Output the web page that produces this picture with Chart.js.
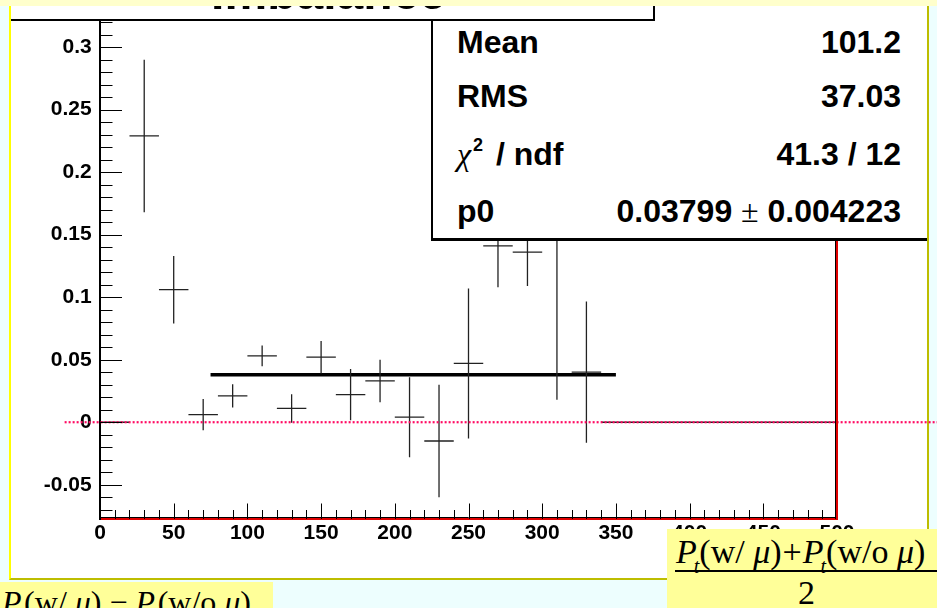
<!DOCTYPE html>
<html>
<head>
<meta charset="utf-8">
<title>Imbalance</title>
<script src="https://cdn.jsdelivr.net/npm/chart.js"></script>
<style>
  html, body { margin: 0; padding: 0; }
  body {
    width: 937px; height: 608px; position: relative; overflow: hidden;
    background: #edfefe; font-family: 'Liberation Sans', Arial, sans-serif; color: #000;
  }
  .abs { position: absolute; white-space: nowrap; }
  #painel {
    position: absolute; left: 9px; top: 0; width: 916px; height: 578px; background: #fff;
    border-left: 2px solid #ffff00; border-right: 2px solid #bdbd00; border-bottom: 2px solid #bdbd00;
  }
  #grafico { position: absolute; left: 0; top: 0; z-index: 1; }
  #caixaTitulo {
    position: absolute; left: 11px; top: -20px; width: 642px; height: 39px; background: #fff;
    border-right: 2px solid #000; border-bottom: 2px solid #000; z-index: 6;
  }
  #titulo { left: 10px; top: -31px; width: 637px; text-align: center; font-size: 48px; line-height: 48px; font-weight: bold; z-index: 7; }
  #faixaTopo { left: 0; top: 0; width: 937px; height: 6px; background: #ffffcc; z-index: 10; }
  #caixaStats {
    position: absolute; left: 431px; top: -10px; width: 494px; height: 248px; background: #fff;
    border-left: 2px solid #000; border-bottom: 3px solid #000; z-index: 5;
  }
  .stat { font-size: 32px; line-height: 32px; font-weight: bold; z-index: 7; }
  .rotulo { left: 457px; }
  .valor { right: 36px; text-align: right; }
  .serif { font-family: 'Liberation Serif', 'Times New Roman', serif; font-weight: normal; }
  .sup { position: relative; top: -14px; font-size: 18px; margin-left: 2px; margin-right: 4px; }
  .formula { font-family: 'Liberation Serif', 'Times New Roman', serif; font-size: 32px; line-height: 32px; }
  .formula i { font-style: italic; }
  .sub { position: relative; top: 10px; font-size: 20px; font-style: italic; margin-left: -3px; }
  #caixaSoma { left: 667px; top: 529px; width: 270px; height: 79px; background: #ffff99; overflow: hidden; z-index: 10; }
  #caixaDif { left: 0; top: 582px; width: 273px; height: 26px; background: #ffff99; overflow: hidden; z-index: 10; }
</style>
</head>
<body>
<div id="painel"></div>
<canvas id="grafico" width="937" height="608"></canvas>

<div id="caixaStats"></div>
<div class="abs stat rotulo" style="top:25.6px">Mean</div>
<div class="abs stat valor" style="top:25.6px">101.2</div>
<div class="abs stat rotulo" style="top:80.2px">RMS</div>
<div class="abs stat valor" style="top:80.2px">37.03</div>
<div class="abs stat rotulo" style="top:137.9px"><span class="serif" style="font-style:italic">χ</span><span class="sup">2</span> / ndf</div>
<div class="abs stat valor" style="top:137.9px">41.3 / 12</div>
<div class="abs stat rotulo" style="top:194.6px">p0</div>
<div class="abs stat valor" style="top:194.6px">0.03799 <span class="serif">±</span> 0.004223</div>

<div id="caixaTitulo"></div>
<div id="titulo" class="abs">Imbalance</div>
<div id="faixaTopo" class="abs"></div>

<div id="caixaDif" class="abs">
  <div class="abs formula" style="left:2px; top:4px"><i>P</i><span class="sub">t</span>(w/ <i>μ</i>) − <i>P</i><span class="sub">t</span>(w/o <i>μ</i>)</div>
</div>
<div id="caixaSoma" class="abs">
  <div class="abs formula" style="left:9px; top:5.5px; font-size:34px; line-height:34px"><i>P</i><span class="sub">t</span>(w/ <i>μ</i>)<span style="margin:0 1px">+</span><i>P</i><span class="sub">t</span>(w/o <i>μ</i>)</div>
  <div class="abs" style="left:8px; top:41px; width:262px; height:1.5px; background:#000"></div>
  <div class="abs formula" style="left:131px; top:47px; font-size:34px; line-height:34px">2</div>
</div>

<script>
// histogram bins (20 wide), values and errors
const binCenters = [10, 30, 50, 70, 90, 110, 130, 150, 170, 190, 210, 230, 250,
                    270, 290, 310, 330, 350, 370, 390, 410, 430, 450, 470, 490];
const binValues  = [0, 0.229, 0.106, 0.006, 0.021, 0.053, 0.011, 0.052, 0.022, 0.033, 0.004, -0.015, 0.047,
                    0.141, 0.136, 0.155, 0.040, 0, 0, 0, 0, 0, 0, 0, 0];
const binErrors  = [0, 0.061, 0.027, 0.0125, 0.0093, 0.0083, 0.0114, 0.013, 0.0205, 0.017, 0.032, 0.045, 0.060,
                    0.033, 0.027, 0.137, 0.0565, 0, 0, 0, 0, 0, 0, 0, 0];
const binHalfWidth = 10;

// constant fit p0 and its range
const fitP0 = 0.03799;
const fitRange = [75, 350];

// dotted zero reference line (runs past the frame)
const zeroLineX = [-24, 580];

// axes
const xRange = [0, 500];
const yRange = [-0.0774, 0.3205];
const xMajorStep = 50;
const yMajorStep = 0.05;
const xMinorStep = 10;
const yMinorStep = 0.01;

// vertical error bars, broken apart with null points
function errorSegments() {
    const pts = [];
    binCenters.forEach((c, i) => {
        if (!binErrors[i]) return;
        pts.push({ x: c, y: binValues[i] - binErrors[i] });
        pts.push({ x: c, y: binValues[i] + binErrors[i] });
        pts.push({ x: c, y: null });
    });
    return pts;
}

// horizontal bin-width bars
function binSegments() {
    const pts = [];
    binCenters.forEach((c, i) => {
        pts.push({ x: c - binHalfWidth, y: binValues[i] });
        pts.push({ x: c + binHalfWidth, y: binValues[i] });
        pts.push({ x: c, y: null });
    });
    return pts;
}

// ROOT style ticks: inside the frame, long majors and short minors
const rootTicks = {
    id: 'rootTicks',
    afterDatasetsDraw(chart) {
        const { ctx, chartArea, scales: { x, y } } = chart;
        ctx.save();
        ctx.strokeStyle = '#000';
        ctx.lineWidth = 1;
        ctx.beginPath();
        const kyMin = Math.ceil(yRange[0] / yMinorStep - 1e-9);
        const kyMax = Math.floor(yRange[1] / yMinorStep + 1e-9);
        for (let k = kyMin; k <= kyMax; k++) {
            const py = Math.round(y.getPixelForValue(k * yMinorStep)) + 0.5;
            const len = k % 5 === 0 ? 22 : 12.5;
            ctx.moveTo(chartArea.left, py);
            ctx.lineTo(chartArea.left + len, py);
        }
        for (let v = xRange[0] + xMinorStep; v < xRange[1]; v += xMinorStep) {
            const px = Math.round(x.getPixelForValue(v)) + 0.5;
            const len = v % xMajorStep === 0 ? 15.5 : 9;
            ctx.moveTo(px, chartArea.bottom);
            ctx.lineTo(px, chartArea.bottom - len);
        }
        ctx.stroke();

        // frame: dark inner lines with red border on bottom and right
        ctx.beginPath();
        ctx.moveTo(chartArea.right - 1.5, chartArea.top);
        ctx.lineTo(chartArea.right - 1.5, chartArea.bottom);
        ctx.moveTo(chartArea.left, chartArea.bottom - 1.5);
        ctx.lineTo(chartArea.right, chartArea.bottom - 1.5);
        ctx.stroke();
        ctx.strokeStyle = '#e00000';
        ctx.lineWidth = 2;
        ctx.beginPath();
        ctx.moveTo(chartArea.right, chartArea.top);
        ctx.lineTo(chartArea.right, chartArea.bottom + 1);
        ctx.stroke();
        ctx.restore();
    }
};

function formatY(v) {
    const r = Math.round(v * 100) / 100;
    return r === 0 ? '0' : String(r);
}

const tickFont = { family: 'Liberation Sans', weight: 'bold', size: 21 };

const ctx = document.getElementById('grafico').getContext('2d');
new Chart(ctx, {
    type: 'line',
    data: {
        datasets: [
            {
                label: 'zero',
                data: zeroLineX.map(x => ({ x, y: 0 })),
                borderColor: '#ff0a62',
                borderWidth: 2.2,
                borderDash: [2, 2],
                clip: false,
                order: 0
            },
            {
                label: 'errors',
                data: errorSegments(),
                borderColor: '#222',
                borderWidth: 1.3,
                order: 1
            },
            {
                label: 'bins',
                data: binSegments(),
                borderColor: '#222',
                borderWidth: 1.3,
                order: 1
            },
            {
                label: 'p0 fit',
                data: fitRange.map(x => ({ x, y: fitP0 })),
                borderColor: '#000',
                borderWidth: 3.5,
                order: 2
            }
        ]
    },
    options: {
        responsive: false,
        animation: false,
        devicePixelRatio: 1,
        datasets: { line: { pointRadius: 0, tension: 0, spanGaps: false, fill: false } },
        layout: { padding: { left: 0, top: 21.5, right: 100, bottom: 0 } },
        plugins: { legend: { display: false }, tooltip: { enabled: false } },
        scales: {
            x: {
                type: 'linear',
                min: xRange[0],
                max: xRange[1],
                afterFit(scale) { scale.height = 89; },
                grid: { display: false, drawTicks: false },
                border: { color: '#e00000', width: 2 },
                ticks: { stepSize: xMajorStep, padding: 1.5, color: '#000', font: tickFont, maxRotation: 0, autoSkip: false }
            },
            y: {
                type: 'linear',
                min: yRange[0],
                max: yRange[1],
                afterFit(scale) { scale.width = 100; },
                grid: { display: false, drawTicks: false },
                border: { color: '#000', width: 2 },
                ticks: { stepSize: yMajorStep, includeBounds: false, padding: 8.3, color: '#000', font: tickFont, callback: formatY }
            }
        }
    },
    plugins: [rootTicks]
});
</script>
</body>
</html>
